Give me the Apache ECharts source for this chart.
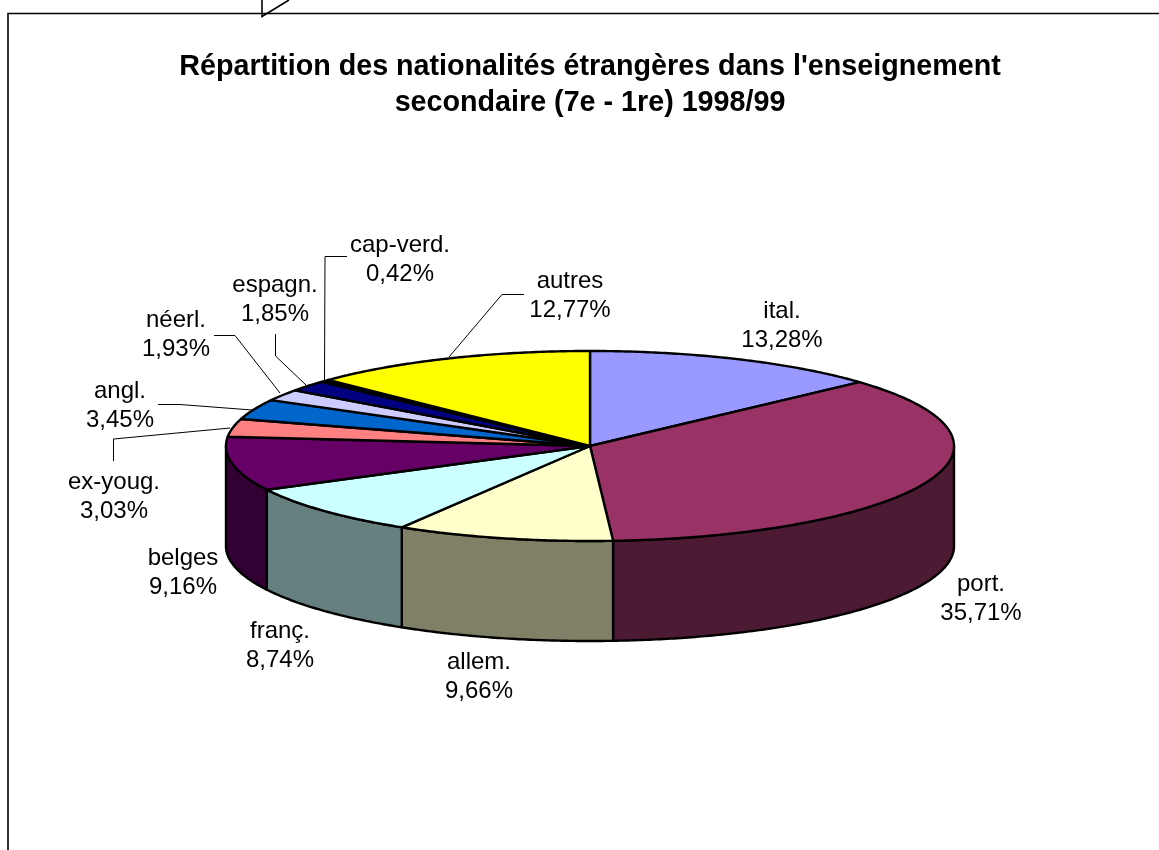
<!DOCTYPE html>
<html>
<head>
<meta charset="utf-8">
<title>Répartition des nationalités étrangères</title>
<style>
html, body { margin: 0; padding: 0; background: #fff; }
#main { width: 1159px; height: 850px; }
</style>
<script src="https://cdn.jsdelivr.net/npm/echarts@6/dist/echarts.min.js"></script>
</head>
<body>
<div id="main"></div>
<script>
// data (percent of foreign pupils)
var categories = ['ital.', 'port.', 'allem.', 'franç.', 'belges', 'ex-youg.', 'angl.', 'néerl.', 'espagn.', 'cap-verd.', 'autres'];
var shares = [13.28, 35.71, 9.66, 8.74, 9.16, 3.03, 3.45, 1.93, 1.85, 0.42, 12.77];

// colours, top face and side wall
var topColors = ['#9999FF', '#993366', '#FFFFCC', '#CCFFFF', '#660066', '#FF8080', '#0066CC', '#CCCCFF', '#000080', '#000000', '#FFFF00'];
var wallColors = ['#4D4D80', '#4D1A33', '#808066', '#668080', '#330033', '#804040', '#003366', '#666680', '#000040', '#000000', '#808000'];

// layout of the tilted disc
var cx = 590, cy = 446, rx = 364, ry = 95, depth = 100;
var font = '"Liberation Sans", Arial, sans-serif';

// hand placed labels, centre x and first line y
var labelPos = [[782, 311], [981, 584], [479, 662], [280, 631], [183, 558], [114, 482], [120, 391], [176, 320], [275, 285], [400, 245], [570, 281]];

// leader lines, same order as the hand placed ones in the source chart
var leaders = [
    [[347, 256.5], [325, 256.5], [324.5, 381]],
    [[275.5, 334], [275.5, 356], [306, 385]],
    [[214, 335.5], [235, 335.5], [280, 393]],
    [[158, 404.5], [180, 404.5], [252, 410]],
    [[113.5, 461], [113.5, 439], [230, 428]],
    [[524, 294.5], [502, 294.5], [449, 357]]
];

var myChart = echarts.init(document.getElementById('main'));

var total = shares.reduce(function (a, b) { return a + b; }, 0);
var starts = [];
shares.reduce(function (acc, v, i) { starts[i] = acc; return acc + v; }, 0);

function pt(t, dy) {
    return [cx + rx * Math.sin(t), cy - ry * Math.cos(t) + (dy || 0)];
}
function arc(t0, t1, dy) {
    var n = Math.max(2, Math.ceil((t1 - t0) / 0.01)), out = [];
    for (var i = 0; i <= n; i++) out.push(pt(t0 + (t1 - t0) * i / n, dy));
    return out;
}
function toPath(points) {
    return 'M' + points.map(function (p) { return p[0].toFixed(2) + ' ' + p[1].toFixed(2); }).join('L') + 'Z';
}

function renderSlice(params, api) {
    var i = api.value(0);
    var t0 = starts[i] / total * 2 * Math.PI;
    var t1 = t0 + api.value(1) / total * 2 * Math.PI;
    var children = [];
    // side wall only shows on the front half
    var a = Math.max(t0, Math.PI / 2), b = Math.min(t1, Math.PI * 1.5);
    if (b > a) {
        children.push({
            type: 'path',
            z2: 1,
            shape: { pathData: toPath(arc(a, b, 0).concat(arc(a, b, depth).reverse())) },
            style: { fill: wallColors[i], stroke: '#000', lineWidth: 2.4, lineJoin: 'round' }
        });
    }
    children.push({
        type: 'path',
        z2: 2 + i,
        shape: { pathData: toPath([[cx, cy]].concat(arc(t0, t1, 0))) },
        style: { fill: topColors[i], stroke: '#000', lineWidth: 2.4, lineJoin: 'round' }
    });
    children.push({
        type: 'text',
        z2: 30,
        style: {
            x: labelPos[i][0],
            y: labelPos[i][1] - 14,
            text: categories[i] + '\n' + api.value(1).toFixed(2).replace('.', ',') + '%',
            font: '24px ' + font,
            lineHeight: 29,
            fill: '#000',
            align: 'center',
            verticalAlign: 'top'
        }
    });
    return { type: 'group', children: children };
}

var option = {
    animation: false,
    backgroundColor: '#fff',
    title: {
        text: "Répartition des nationalités étrangères dans l'enseignement\nsecondaire (7e - 1re) 1998/99",
        left: 585,
        top: 44,
        textAlign: 'center',
        textStyle: { fontFamily: font, fontSize: 28.7, fontWeight: 'bold', color: '#000', lineHeight: 36 }
    },
    graphic: {
        elements: [
            { type: 'polyline', z: 1, shape: { points: [[8, 850], [8, 13.5], [1159, 13.5]] }, style: { stroke: '#000', lineWidth: 1.6, fill: null } },
            { type: 'polyline', z: 1, shape: { points: [[262, 0], [262, 16.5], [289, 0]] }, style: { stroke: '#000', lineWidth: 1.6, fill: null } }
        ].concat(leaders.map(function (pts) {
            return { type: 'polyline', z: 1, shape: { points: pts }, style: { stroke: '#000', lineWidth: 1, fill: null } };
        }))
    },
    series: [{
        type: 'custom',
        coordinateSystem: 'none',
        clip: false,
        renderItem: renderSlice,
        encode: { itemName: 2 },
        data: shares.map(function (v, i) { return [i, v, categories[i]]; })
    }]
};

myChart.setOption(option);
</script>
</body>
</html>
